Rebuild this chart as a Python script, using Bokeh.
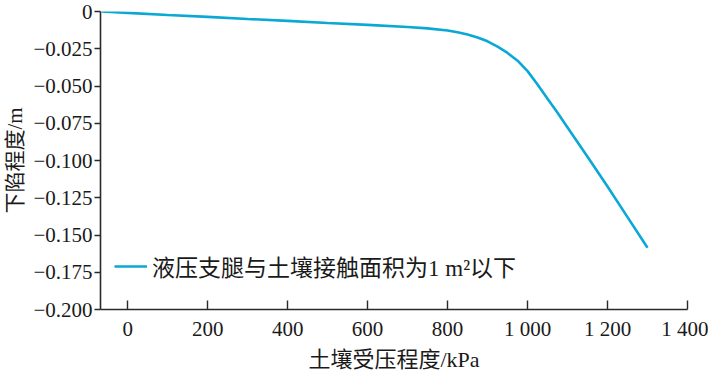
from bokeh.plotting import figure
from bokeh.models import Range1d, FixedTicker, Legend, LegendItem
from bokeh.embed import file_html
from bokeh.resources import INLINE

# data
pressure = [-65, 0, 100, 200, 300, 400, 500, 600, 700, 750, 800, 825, 850, 875, 900,
            925, 950, 975, 1000, 1025, 1050, 1075, 1100, 1150, 1200, 1250, 1300]
sink = [0.0, -0.0009, -0.0023, -0.0036, -0.0050, -0.0063, -0.0077, -0.0090, -0.0104,
        -0.0113, -0.0127, -0.0139, -0.0155, -0.0175, -0.0200, -0.0236, -0.0278,
        -0.0330, -0.0400, -0.0490, -0.0585, -0.0680, -0.0778, -0.0975, -0.1175,
        -0.1380, -0.1585]
series_label = "液压支腿与土壤接触面积为1 m²以下"

xticks = [0, 200, 400, 600, 800, 1000, 1200, 1400]
xtick_labels = ["0", "200", "400", "600", "800", "1 000", "1 200", "1 400"]
yticks = [0, -0.025, -0.05, -0.075, -0.1, -0.125, -0.15, -0.175, -0.2]
ytick_labels = ["0", "\u22120.025", "\u22120.050", "\u22120.075", "\u22120.100",
                "\u22120.125", "\u22120.150", "\u22120.175", "\u22120.200"]
x_title = "土壤受压程度/kPa"
y_title = "下陷程度/m"

SERIF = "Liberation Serif"
CJK = "'Liberation Serif', 'Noto Sans CJK SC'"
COLOR = "#0AA8D4"
AX = "#2a2a2a"

p = figure(width=708, height=377, output_backend="svg", toolbar_location=None,
           x_range=Range1d(-68, 1400), y_range=Range1d(-0.2, 0),
           min_border_left=99, min_border_right=21, min_border_top=11, min_border_bottom=68)
p.outline_line_color = None
p.grid.visible = False
p.background_fill_color = "white"
p.border_fill_color = "white"

r = p.line(pressure, sink, line_color=COLOR, line_width=2.6)

p.xaxis.ticker = FixedTicker(ticks=xticks)
p.xaxis.major_label_overrides = dict(zip(xticks, xtick_labels))
p.yaxis.ticker = FixedTicker(ticks=yticks)
p.yaxis.major_label_overrides = dict(zip(yticks, ytick_labels))

for ax in (p.xaxis[0], p.yaxis[0]):
    ax.axis_line_color = AX
    ax.axis_line_width = 1.6
    ax.major_tick_line_color = AX
    ax.major_tick_line_width = 1.4
    ax.minor_tick_line_color = None
    ax.major_label_text_font = SERIF
    ax.major_label_text_font_size = "21px"
    ax.major_label_text_color = "#1a1a1a"
    ax.axis_label_text_font = CJK
    ax.axis_label_text_font_size = "22px"
    ax.axis_label_text_font_style = "normal"
    ax.axis_label_text_color = "#1a1a1a"

p.xaxis.major_tick_in = 9
p.xaxis.major_tick_out = 0
p.xaxis.major_label_standoff = 7
p.xaxis.axis_label = x_title
p.xaxis.axis_label_standoff = 3

p.yaxis.major_tick_in = 0
p.yaxis.major_tick_out = 6
p.yaxis.major_label_standoff = 2
p.yaxis.axis_label = y_title
p.yaxis.axis_label_standoff = 3
p.yaxis.axis_label_text_font_size = "21px"

legend = Legend(items=[LegendItem(label=series_label, renderers=[r])],
                location=(14, 26), padding=0, margin=0, spacing=0,
                glyph_width=33, glyph_height=22, label_height=22, label_standoff=5,
                label_text_font=CJK, label_text_font_size="23px",
                label_text_color="#1a1a1a",
                border_line_color=None, background_fill_alpha=0)
p.add_layout(legend, "center")

open("out.html", "w").write(file_html(p, INLINE))
